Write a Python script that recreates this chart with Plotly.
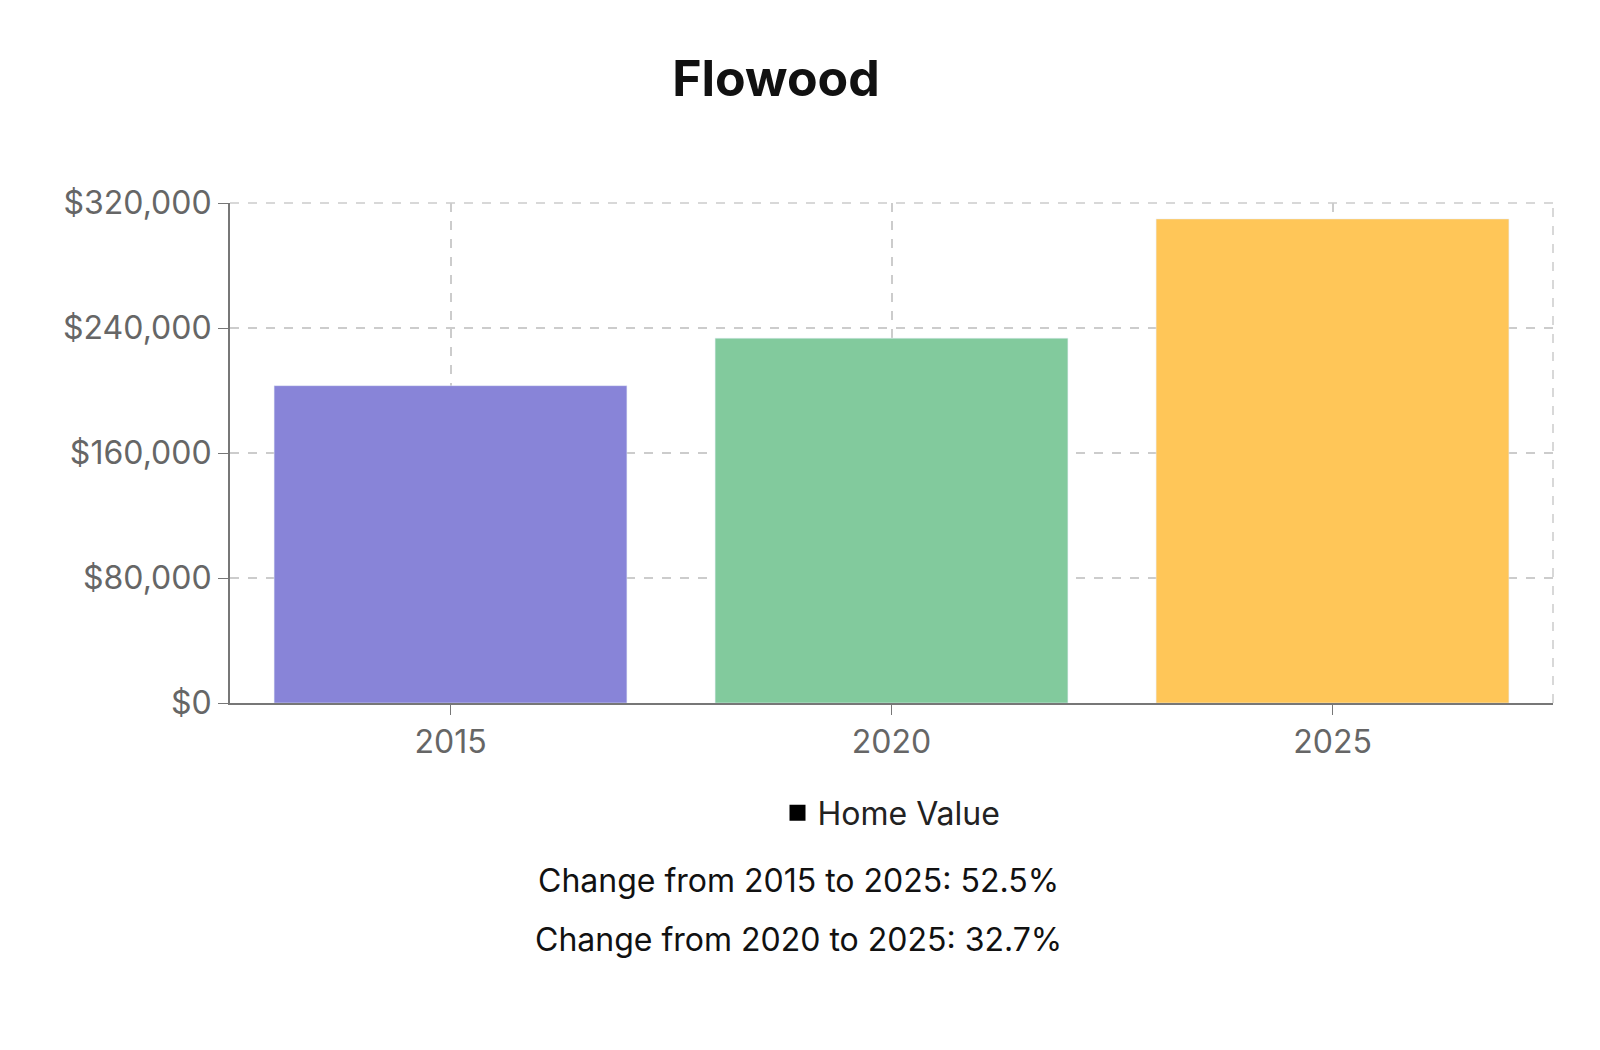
import plotly.graph_objects as go

years = ["2015", "2020", "2025"]
values = [203100, 233500, 309800]
colors = ["#8884d8", "#82ca9d", "#ffc658"]
yticks = [0, 80000, 160000, 240000, 320000]
ytick_labels = ["$0", "$80,000", "$160,000", "$240,000", "$320,000"]
notes = ["Change from 2015 to 2025: 52.5%", "Change from 2020 to 2025: 32.7%"]

fig = go.Figure()
fig.add_trace(go.Bar(x=years, y=values, marker_color=colors, width=0.8, showlegend=False))
fig.add_trace(go.Scatter(x=[years[0]], y=[None], mode="markers",
                         marker=dict(symbol="square", size=30, color="#000"),
                         name="Home Value", showlegend=True))

fig.update_layout(
    width=1600, height=1050, plot_bgcolor="white", paper_bgcolor="white",
    margin=dict(l=222, r=55, t=195, b=355),
    font=dict(family="Inter, Roboto, sans-serif", color="#666", size=32),
    title=dict(text="<b>Flowood</b>", x=0.48, xanchor="center", y=1-70/1050, yanchor="middle",
               font=dict(size=50, color="#111")),
    legend=dict(orientation="h", x=0.5, xanchor="center", y=-0.22, yanchor="middle",
                font=dict(size=32, color="#222")),
)
fig.update_yaxes(range=[0, 320000], tickvals=yticks, ticktext=ytick_labels,
                 showgrid=True, gridcolor="#ccc", griddash="dash", gridwidth=1.5,
                 showline=True, linecolor="#777", linewidth=2, ticks="outside",
                 tickcolor="#777", ticklen=10, zeroline=False)
fig.update_xaxes(showgrid=True, gridcolor="#ccc", griddash="dash", gridwidth=1.5,
                 showline=True, linecolor="#777", linewidth=2, ticks="outside",
                 tickcolor="#777", ticklen=10)
fig.add_shape(type="line", xref="paper", yref="paper", x0=1, x1=1, y0=0, y1=1,
              line=dict(color="#ccc", dash="dash", width=1.5))
fig.add_shape(type="line", xref="paper", yref="paper", x0=0, x1=1, y0=1, y1=1,
              line=dict(color="#ccc", dash="dash", width=1.5))
for i, t in enumerate(notes):
    fig.add_annotation(text=t, xref="paper", yref="paper", x=0.43, xanchor="center",
                       y=-(178 + 58 * i) / 500, yanchor="middle", showarrow=False,
                       font=dict(size=32, color="#111"))
fig.write_html("out.html")
